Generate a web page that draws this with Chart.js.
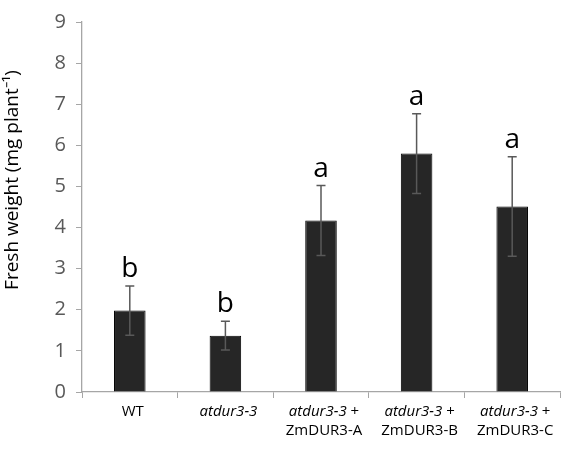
<!DOCTYPE html>
<html>
<head>
<meta charset="utf-8">
<script src="https://cdn.jsdelivr.net/npm/chart.js@4"></script>
<style>
  html, body { margin: 0; padding: 0; background: #fff; }
  #wrap { width: 567px; height: 454px; }
</style>
</head>
<body>
<div id="wrap"><canvas id="freshChart"></canvas></div>
<script>
const categories = ['WT', 'atdur3-3', 'atdur3-3 + ZmDUR3-A', 'atdur3-3 + ZmDUR3-B', 'atdur3-3 + ZmDUR3-C'];
const labelItalic = ['', 'atdur3-3', 'atdur3-3', 'atdur3-3', 'atdur3-3'];
const labelPlain = ['WT', '', ' +', ' +', ' +'];
const labelSecond = ['', '', 'ZmDUR3-A', 'ZmDUR3-B', 'ZmDUR3-C'];
const freshWeight = [1.98, 1.37, 4.17, 5.80, 4.51];
const errorSize = [0.60, 0.35, 0.85, 0.97, 1.21];
const letters = ['b', 'b', 'a', 'a', 'a'];
const yTicks = [0, 1, 2, 3, 4, 5, 6, 7, 8, 9];
const yTitle = 'Fresh weight (mg plant\u207B\u00B9)';

const fontFam = "'Open Sans', 'Liberation Sans', sans-serif";

// error bars + significance letters + custom x labels + y title
const extras = {
    id: 'extras',
    afterDatasetsDraw(chart) {
        const ctx = chart.ctx;
        const x = chart.scales.x, y = chart.scales.y;
        ctx.save();
        freshWeight.forEach((v, i) => {
            const px = x.getPixelForValue(i);
            const top = y.getPixelForValue(v + errorSize[i]);
            const bot = y.getPixelForValue(v - errorSize[i]);
            ctx.strokeStyle = '#595959';
            ctx.lineWidth = 1.5;
            ctx.beginPath();
            ctx.moveTo(px, top); ctx.lineTo(px, bot);
            ctx.moveTo(px - 4.5, top); ctx.lineTo(px + 4.5, top);
            ctx.moveTo(px - 4.5, bot); ctx.lineTo(px + 4.5, bot);
            ctx.stroke();

            ctx.fillStyle = '#000';
            ctx.font = '28px ' + fontFam;
            ctx.textAlign = 'center';
            ctx.textBaseline = 'alphabetic';
            ctx.fillText(letters[i], px, top - 9);

            // x labels: italic gene name + plain rest
            ctx.textBaseline = 'middle';
            ctx.textAlign = 'left';
            const it = labelItalic[i], pl = labelPlain[i];
            ctx.font = 'italic 15px ' + fontFam;
            const wIt = ctx.measureText(it).width;
            ctx.font = '15px ' + fontFam;
            const wPl = ctx.measureText(pl).width;
            let sx = px + 3 - (wIt + wPl) / 2;
            ctx.font = 'italic 15px ' + fontFam;
            ctx.fillText(it, sx, 412);
            ctx.font = '15px ' + fontFam;
            ctx.fillText(pl, sx + wIt, 412);
            if (labelSecond[i]) {
                ctx.textAlign = 'center';
                ctx.fillText(labelSecond[i], px + 3, 431);
            }
        });

        ctx.translate(13, 180);
        ctx.rotate(-Math.PI / 2);
        ctx.textAlign = 'center';
        ctx.textBaseline = 'middle';
        ctx.fillStyle = '#000';
        ctx.font = '19px ' + fontFam;
        ctx.fillText(yTitle, 0, 0);
        ctx.restore();
    }
};

new Chart(document.getElementById('freshChart'), {
    type: 'bar',
    data: {
        labels: categories,
        datasets: [{
            data: freshWeight,
            backgroundColor: '#262626',
            borderColor: '#000',
            borderWidth: 1,
            categoryPercentage: 1,
            barPercentage: 0.33
        }]
    },
    options: {
        responsive: true,
        maintainAspectRatio: false,
        animation: false,
        layout: { padding: { top: 0, right: 7, bottom: 0, left: 0 } },
        plugins: {
            legend: { display: false },
            tooltip: { enabled: false }
        },
        scales: {
            x: {
                afterFit(s) { s.height = 62; },
                grid: { drawOnChartArea: false, tickLength: 6, color: '#a6a6a6', offset: true },
                border: { color: '#a6a6a6', width: 1.3 },
                ticks: { display: false }
            },
            y: {
                min: 0,
                max: 9,
                afterFit(s) { s.width = 82; },
                afterBuildTicks(s) { s.ticks = yTicks.map(v => ({ value: v })); },
                grid: { drawOnChartArea: false, tickLength: 6, color: '#a6a6a6' },
                border: { color: '#a6a6a6', width: 1.3 },
                ticks: { color: '#595959', font: { family: fontFam, size: 20 }, padding: 10 }
            }
        }
    },
    plugins: [extras]
});
</script>
</body>
</html>
